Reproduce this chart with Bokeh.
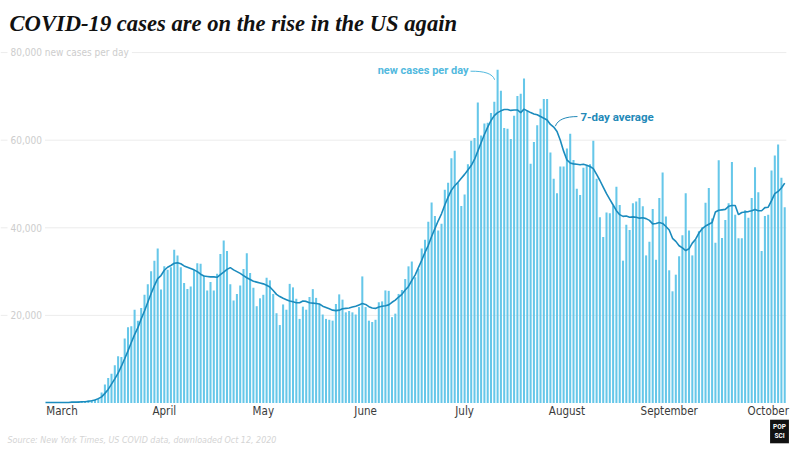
from bokeh.plotting import figure
from bokeh.models import Range1d, Label
from bokeh.core.properties import value
from bokeh.embed import file_html
from bokeh.resources import INLINE

# ---------------- data ----------------
start_date = "2020-03-01"   # day 0
month_labels = ["March", "April", "May", "June", "July", "August", "September", "October"]
month_start_days = [0, 31, 61, 92, 122, 153, 184, 214]

# daily new cases, Mar 1 .. Oct 11, 2020
cases = [
    20, 25, 25, 30, 70, 90, 110, 120, 170, 250, 330, 400, 470, 560, 650, 800, 1100,
    2400, 4200, 5700, 6700, 8600, 10700, 10500, 14700, 17300, 17500, 21300, 18800, 21700, 24700, 27100, 30100, 32500,
    35300, 25900, 31200, 30400, 31000, 35000, 33700, 31000, 27400, 26000, 26600, 30400, 31900, 31800, 29100, 25700, 27600,
    25700, 29500, 34000, 37100, 34700, 27100, 23400, 24900, 26800, 30600, 34200, 29700, 26300, 22100, 23900, 24700, 28600,
    28000, 24900, 20500, 17800, 22500, 21300, 27200, 26400, 23800, 19200, 22000, 21300, 24200, 26000, 24000, 22600, 20200,
    19200, 19000, 18800, 22600, 24800, 23600, 20700, 21000, 20700, 20200, 21900, 28900, 21900, 18800, 18500, 19000, 23000,
    23200, 25700, 25600, 19600, 20400, 24900, 25800, 28300, 31200, 32300, 28700, 30600, 35300, 37300, 41400, 45800, 42700,
    39400, 40900, 48700, 50300, 55900, 57600, 50300, 45000, 47600, 54500, 59900, 60500, 68600, 61100, 63800, 64000, 66200,
    68800, 76100, 71300, 62800, 62600, 60300, 65600, 70100, 70600, 74100, 66800, 54600, 59600, 63400, 67200, 69400, 69400,
    57200, 51200, 47900, 54000, 54000, 58100, 61500, 55500, 48900, 47500, 53700, 54200, 54500, 59900, 51200, 42400, 37900,
    43500, 43300, 45100, 49400, 45200, 32500, 40700, 39500, 45600, 46000, 46800, 44900, 33700, 36800, 44300, 32700, 46800,
    52600, 42600, 30300, 25500, 29300, 33500, 38300, 47900, 39400, 33700, 37300, 39200, 40100, 45700, 49100, 42100, 36600,
    55400, 37700, 41800, 45600, 55000, 43000, 37600, 37600, 44000, 42300, 46800, 53800, 48100, 34700, 42700, 43000, 53100,
    56500, 59000, 51400, 44700,
]

# 7-day average, thousands of cases
avg7_k = [
    0.1, 0.1, 0.1, 0.1, 0.1, 0.1, 0.1, 0.1, 0.2, 0.2, 0.2, 0.3, 0.3, 0.4, 0.5, 0.7, 1.0,
    1.4, 2.2, 3.1, 4.3, 5.5, 6.8, 8.4, 10.1, 11.9, 13.8, 15.6, 17.2, 19.2, 21.0, 23.0, 25.0, 26.8,
    28.4, 29.1, 30.3, 31.0, 31.4, 31.9, 32.0, 31.8, 31.3, 31.0, 30.7, 30.4, 30.0, 29.4, 29.0, 28.9, 28.8,
    28.8, 28.7, 29.3, 29.9, 30.5, 30.9, 30.4, 30.0, 29.6, 29.1, 28.6, 28.2, 27.8, 27.6, 27.4, 27.2, 26.9,
    26.5, 25.7, 24.8, 24.3, 23.9, 23.6, 23.3, 23.1, 22.9, 22.9, 23.3, 23.2, 22.9, 22.8, 22.7, 22.6, 22.1,
    21.8, 21.5, 21.2, 21.1, 21.2, 21.5, 21.6, 21.7, 21.9, 22.1, 22.4, 22.7, 22.5, 22.0, 21.7, 21.6, 21.9,
    22.1, 22.2, 22.4, 23.0, 23.5, 24.2, 24.8, 25.8, 26.6, 28.0, 29.2, 30.9, 32.6, 34.4, 36.0, 38.0, 39.8,
    41.6, 43.2, 45.2, 47.0, 48.6, 49.6, 50.4, 51.3, 52.2, 53.2, 54.2, 55.6, 57.5, 59.4, 61.3, 63.0, 64.5,
    65.6, 66.3, 66.7, 67.0, 67.0, 66.8, 66.9, 66.9, 66.3, 67.1, 66.7, 66.3, 66.0, 65.8, 65.4, 65.0, 64.6,
    63.6, 63.0, 62.0, 60.0, 57.5, 55.5, 54.8, 54.6, 54.5, 54.4, 54.5, 54.3, 54.0, 53.5, 52.2, 50.8, 49.3,
    47.8, 46.5, 45.2, 43.9, 43.0, 42.6, 42.7, 42.4, 42.5, 42.4, 42.2, 42.3, 42.1, 41.7, 40.9, 41.0, 41.2,
    41.0, 40.3, 39.5, 37.6, 36.9, 35.9, 35.4, 34.8, 35.2, 36.5, 37.4, 38.8, 39.8, 40.4, 40.8, 41.2, 43.6,
    44.0, 44.1, 44.2, 44.9, 45.1, 45.1, 43.0, 43.5, 43.6, 43.7, 43.9, 44.2, 43.9, 43.9, 44.6, 44.7, 46.2,
    47.8, 48.3, 49.1, 50.2,
]

grid_values = [20000, 40000, 60000, 80000]
grid_labels = ["20,000", "40,000", "60,000", "80,000 new cases per day"]

title_text = "COVID-19 cases are on the rise in the US again"
source_text = "Source: New York Times, US COVID data, downloaded Oct 12, 2020"

# ---------------- styling ----------------
BAR = "#66c7e9"
LINE = "#1b8bbd"
NEW_TXT = "#52b9de"
AVG_TXT = "#2389b8"
GRID = "#ececec"
LIGHT = "#cdcdcd"
NARROW = "DejaVu Sans Condensed"

W, H = 799, 449
X0, X1 = -13.636, 228.48       # day range over the full canvas
Y0, Y1 = -10616, 91895         # case range over the full canvas
GRID_END = 224.5
MONTH_LABEL_Y = -1712          # just under the baseline

days = list(range(len(cases)))
avg7 = [v * 1000 for v in avg7_k]

p = figure(width=W, height=H, output_backend="svg", toolbar_location=None,
           x_range=Range1d(X0, X1), y_range=Range1d(Y0, Y1),
           x_axis_location=None, y_axis_location=None,
           min_border=0, min_border_left=0, min_border_right=0,
           min_border_top=0, min_border_bottom=0)
p.outline_line_color = None
p.background_fill_color = "white"
p.border_fill_color = "white"
p.xgrid.visible = False
p.ygrid.visible = False

# gridlines
p.segment(x0=[X0] * len(grid_values), y0=grid_values,
          x1=[GRID_END] * len(grid_values), y1=grid_values,
          line_color=GRID, line_width=1)

# bars and average line
p.vbar(x=days, top=cases, width=0.62, fill_color=BAR, line_color=None)
p.line(days, avg7, line_color=LINE, line_width=1.6)

# y labels sitting on the gridlines
for v, t in zip(grid_values, grid_labels):
    p.add_layout(Label(x=7, x_units="screen", y=v, text=t, text_align="left",
                       text_baseline="middle", text_font=NARROW, text_font_size="10px",
                       text_color=LIGHT, background_fill_color="white", padding=3))

# month labels
p.text(x=[d + 5 for d in month_start_days], y=[MONTH_LABEL_Y] * len(month_labels),
       text=month_labels, text_align="center", text_baseline="middle",
       text_font=value(NARROW), text_font_size="11.5px", text_color="#3a3a3a")

# annotations
p.add_layout(Label(x=128.2, y=75900, text="new cases per day", text_align="right",
                   text_baseline="middle", text_font="Roboto", text_font_style="bold",
                   text_font_size="11px", text_color=NEW_TXT))
p.bezier(x0=[128.8], y0=[75750], x1=[136.1], y1=[73800],
         cx0=[133.0], cy0=[75800], cx1=[135.5], cy1=[75200],
         line_color=NEW_TXT, line_width=1)

p.add_layout(Label(x=162.1, y=65200, text="7-day average", text_align="left",
                   text_baseline="middle", text_font="Roboto", text_font_style="bold",
                   text_font_size="11.5px", text_color=AVG_TXT))
p.bezier(x0=[161.2], y0=[65400], x1=[154.5], y1=[63200],
         cx0=[157.6], cy0=[65400], cx1=[155.2], cy1=[64700],
         line_color=AVG_TXT, line_width=1)

# title, source, logo
p.add_layout(Label(x=9, y=426, x_units="screen", y_units="screen", text=title_text,
                   text_align="left", text_baseline="middle",
                   text_font="Liberation Serif", text_font_style="bold italic",
                   text_font_size="22.6px", text_color="#111111"))
p.add_layout(Label(x=7, y=10, x_units="screen", y_units="screen", text=source_text,
                   text_align="left", text_baseline="middle", text_font=NARROW,
                   text_font_style="italic", text_font_size="8.9px", text_color="#d4d4d4"))
p.add_layout(Label(x=779, y=18, x_units="screen", y_units="screen", text="POP\nSCI",
                   text_align="center", text_baseline="middle", text_font="Roboto",
                   text_font_style="bold", text_font_size="6.5px", text_color="white",
                   background_fill_color="#111111", padding=3))

open("out.html", "w").write(file_html(p, INLINE))
